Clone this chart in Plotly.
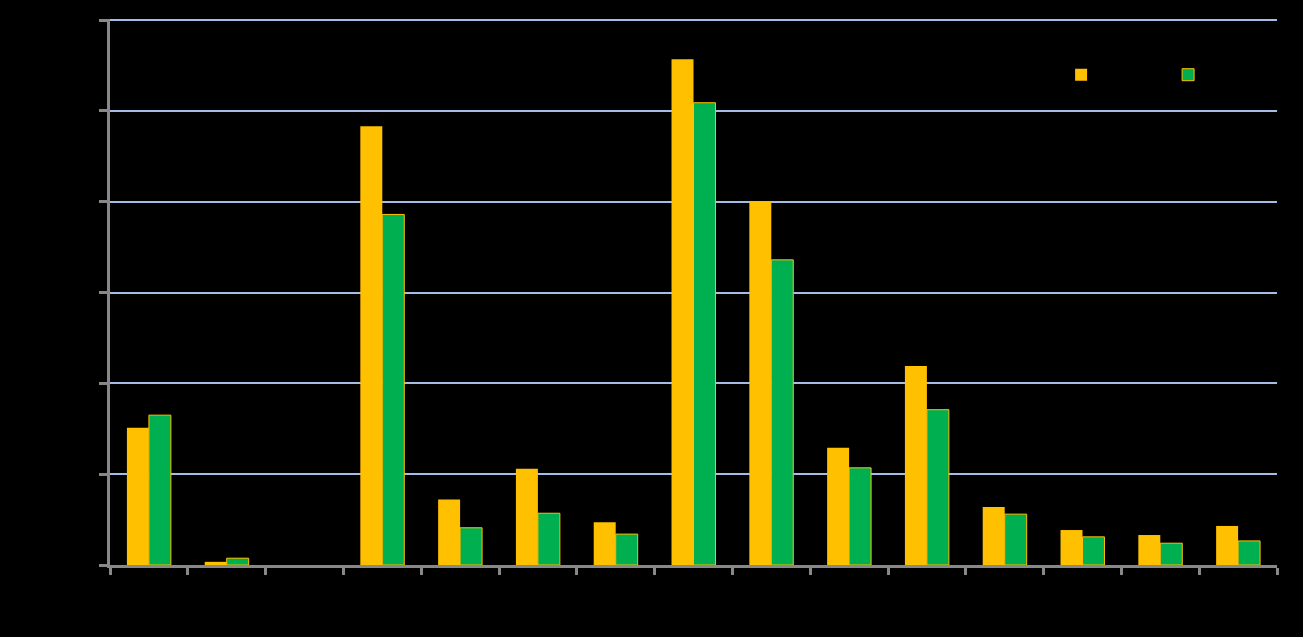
import plotly.graph_objects as go

categories = ["Cat 1", "Cat 2", "Cat 3", "Cat 4", "Cat 5", "Cat 6", "Cat 7", "Cat 8",
              "Cat 9", "Cat 10", "Cat 11", "Cat 12", "Cat 13", "Cat 14", "Cat 15"]
series1 = [15.1, 0.35, None, 48.3, 7.2, 10.6, 4.7, 55.7, 40.0, 12.9, 21.9, 6.4, 3.85, 3.3, 4.3]
series2 = [16.5, 0.75, None, 38.6, 4.1, 5.7, 3.4, 50.9, 33.6, 10.7, 17.1, 5.6, 3.1, 2.4, 2.65]
series_names = ["Series 1", "Series 2"]
y_ticks = [0, 10, 20, 30, 40, 50, 60]

fig = go.Figure()
fig.add_trace(go.Bar(x=categories, y=series1, name=series_names[0],
                     marker=dict(color="#FFC000", line=dict(width=0))))
fig.add_trace(go.Bar(x=categories, y=series2, name=series_names[1],
                     marker=dict(color="#00B050", line=dict(color="#FFC000", width=1))))

fig.update_layout(
    width=1303, height=637, autosize=False,
    paper_bgcolor="black", plot_bgcolor="black",
    margin=dict(l=110, r=26, t=19, b=72, autoexpand=False),
    barmode="group", bargap=0.435, bargroupgap=0,
    font=dict(family="Liberation Sans, Arial", color="black", size=12),
    showlegend=True,
    legend=dict(orientation="h", x=0.815, y=0.898, xanchor="left", yanchor="middle",
                entrywidth=62, entrywidthmode="pixels",
                bgcolor="rgba(0,0,0,0)", font=dict(color="black")),
)
fig.update_xaxes(showline=True, linecolor="#888888", linewidth=3,
                 ticks="outside", tickson="boundaries", ticklen=7, tickwidth=3,
                 tickcolor="#888888", showgrid=False, tickfont=dict(color="black"))
fig.update_yaxes(range=[0, 60.12], tickvals=y_ticks, showline=True, linecolor="#888888",
                 linewidth=3, ticks="outside", ticklen=8, tickwidth=3, tickcolor="#888888",
                 showgrid=True, gridcolor="#A6BDE3", gridwidth=1.5, zeroline=False,
                 tickfont=dict(color="black"))

fig.write_html("out.html", config={"displayModeBar": False},
               post_script="document.body.style.margin='0';document.body.style.background='black';")
